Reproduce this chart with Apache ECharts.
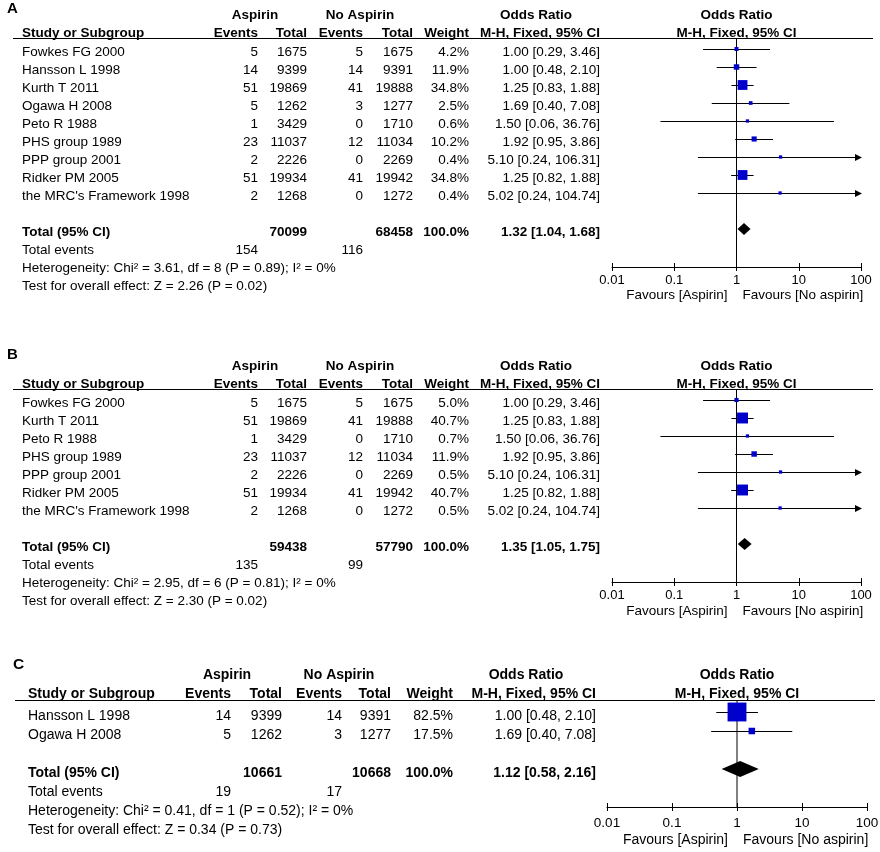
<!DOCTYPE html>
<html><head><meta charset="utf-8">
<script src="https://cdn.jsdelivr.net/npm/echarts@6/dist/echarts.min.js"></script>
<style>html,body{margin:0;padding:0;background:#fff}#c{width:880px;height:852px}</style>
</head><body><div id="c"></div>
<script>
// ---------- DATA ----------
const tickLabels = ['0.01', '0.1', '1', '10', '100'];
const favourLabels = ['Favours [Aspirin]', 'Favours [No aspirin]'];

// Panel A
const studiesA = ['Fowkes FG 2000', 'Hansson L 1998', 'Kurth T 2011', 'Ogawa H 2008', 'Peto R 1988', 'PHS group 1989', 'PPP group 2001', 'Ridker PM 2005', "the MRC's Framework 1998"];
const aEventsA = [5, 14, 51, 5, 1, 23, 2, 51, 2];
const aTotalA = [1675, 9399, 19869, 1262, 3429, 11037, 2226, 19934, 1268];
const nEventsA = [5, 14, 41, 3, 0, 12, 0, 41, 0];
const nTotalA = [1675, 9391, 19888, 1277, 1710, 11034, 2269, 19942, 1272];
const weightA = [4.2, 11.9, 34.8, 2.5, 0.6, 10.2, 0.4, 34.8, 0.4];
const orA = [1.00, 1.00, 1.25, 1.69, 1.50, 1.92, 5.10, 1.25, 5.02];
const loA = [0.29, 0.48, 0.83, 0.40, 0.06, 0.95, 0.24, 0.82, 0.24];
const hiA = [3.46, 2.10, 1.88, 7.08, 36.76, 3.86, 106.31, 1.88, 104.74];
const totalA = [70099, 68458, 100.0];
const totalOrA = [1.32, 1.04, 1.68];
const totalEventsA = [154, 116];
const hetA = 'Heterogeneity: Chi² = 3.61, df = 8 (P = 0.89); I² = 0%';
const testA = 'Test for overall effect: Z = 2.26 (P = 0.02)';

// Panel B
const studiesB = ['Fowkes FG 2000', 'Kurth T 2011', 'Peto R 1988', 'PHS group 1989', 'PPP group 2001', 'Ridker PM 2005', "the MRC's Framework 1998"];
const aEventsB = [5, 51, 1, 23, 2, 51, 2];
const aTotalB = [1675, 19869, 3429, 11037, 2226, 19934, 1268];
const nEventsB = [5, 41, 0, 12, 0, 41, 0];
const nTotalB = [1675, 19888, 1710, 11034, 2269, 19942, 1272];
const weightB = [5.0, 40.7, 0.7, 11.9, 0.5, 40.7, 0.5];
const orB = [1.00, 1.25, 1.50, 1.92, 5.10, 1.25, 5.02];
const loB = [0.29, 0.83, 0.06, 0.95, 0.24, 0.82, 0.24];
const hiB = [3.46, 1.88, 36.76, 3.86, 106.31, 1.88, 104.74];
const totalB = [59438, 57790, 100.0];
const totalOrB = [1.35, 1.05, 1.75];
const totalEventsB = [135, 99];
const hetB = 'Heterogeneity: Chi² = 2.95, df = 6 (P = 0.81); I² = 0%';
const testB = 'Test for overall effect: Z = 2.30 (P = 0.02)';

// Panel C
const studiesC = ['Hansson L 1998', 'Ogawa H 2008'];
const aEventsC = [14, 5];
const aTotalC = [9399, 1262];
const nEventsC = [14, 3];
const nTotalC = [9391, 1277];
const weightC = [82.5, 17.5];
const orC = [1.00, 1.69];
const loC = [0.48, 0.40];
const hiC = [2.10, 7.08];
const totalC = [10661, 10668, 100.0];
const totalOrC = [1.12, 0.58, 2.16];
const totalEventsC = [19, 17];
const hetC = 'Heterogeneity: Chi² = 0.41, df = 1 (P = 0.52); I² = 0%';
const testC = 'Test for overall effect: Z = 0.34 (P = 0.73)';

// ---------- LAYOUT ----------
const layouts = [
  { label: 'A', labelY: 9, h1: 15, h2: 33, rule: 38, row0: 49, step: 18, axisY: 267, plotL: 612, plotR: 861,
    fs: 13.5, nameX: 22, cols: [258, 307, 363, 413, 469, 600], hdr: [255, 360, 536], diamondH: 12,
    ruleX: [13, 873], tickMargin: 7, favGap: 28, textDy: 3 },
  { label: 'B', labelY: 355, h1: 366, h2: 384, rule: 389, row0: 400, step: 18, axisY: 582, plotL: 612, plotR: 861,
    fs: 13.5, nameX: 22, cols: [258, 307, 363, 413, 469, 600], hdr: [255, 360, 536], diamondH: 12,
    ruleX: [13, 873], tickMargin: 7, favGap: 29, textDy: 3 },
  { label: 'C', labelY: 665, h1: 675, h2: 694, rule: 700, row0: 712, step: 19, axisY: 807, plotL: 607, plotR: 867,
    fs: 14, nameX: 28, cols: [231, 282, 342, 391, 453, 596], hdr: [227, 339, 526], diamondH: 16,
    ruleX: [15, 875], tickMargin: 9, favGap: 33, textDy: 4 }
];

const panels = [
  { studies: studiesA, aEv: aEventsA, aTot: aTotalA, nEv: nEventsA, nTot: nTotalA, w: weightA, or: orA, lo: loA, hi: hiA,
    tot: totalA, tor: totalOrA, tev: totalEventsA, het: hetA, test: testA },
  { studies: studiesB, aEv: aEventsB, aTot: aTotalB, nEv: nEventsB, nTot: nTotalB, w: weightB, or: orB, lo: loB, hi: hiB,
    tot: totalB, tor: totalOrB, tev: totalEventsB, het: hetB, test: testB },
  { studies: studiesC, aEv: aEventsC, aTot: aTotalC, nEv: nEventsC, nTot: nTotalC, w: weightC, or: orC, lo: loC, hi: hiC,
    tot: totalC, tor: totalOrC, tev: totalEventsC, het: hetC, test: testC }
];

const FONT = '"Liberation Sans", Arial, Helvetica, sans-serif';
const BLUE = '#0000cc';

function studyRender(params, api) {
  const or = api.value(0), lo = api.value(1), hi = api.value(2), row = api.value(3), w = api.value(4);
  const c = api.coord([or, row]);
  const a = api.coord([Math.max(lo, 0.01), row]);
  const b = api.coord([Math.min(hi, 100), row]);
  const y = Math.round(c[1]) + 0.5;
  const s = 3.2 + 0.19 * w;
  const children = [
    { type: 'line', shape: { x1: a[0], y1: y, x2: b[0], y2: y }, style: { stroke: '#000', lineWidth: 1 } }
  ];
  if (hi > 100) {
    children.push({ type: 'polygon', shape: { points: [[b[0] - 6, y - 3.5], [b[0] + 1, y], [b[0] - 6, y + 3.5]] }, style: { fill: '#000' } });
  }
  children.push({ type: 'rect', shape: { x: c[0] - s / 2, y: c[1] - s / 2, width: s, height: s }, style: { fill: BLUE } });
  return { type: 'group', children };
}
function diamondRender(h) {
  return function (params, api) {
    const row = api.value(3);
    const c = api.coord([api.value(0), row]);
    const a = api.coord([api.value(1), row]);
    const b = api.coord([api.value(2), row]);
    return { type: 'polygon', shape: { points: [[a[0], c[1]], [c[0], c[1] - h / 2], [b[0], c[1]], [c[0], c[1] + h / 2]] }, style: { fill: '#000' } };
  };
}

const grid = [], xAxis = [], yAxis = [], series = [];
panels.forEach((p, k) => {
  const L = layouts[k];
  const n = p.studies.length;
  const yMin = (L.rule - L.row0) / L.step;
  const yMax = (L.axisY - L.row0) / L.step;
  grid.push({ left: L.plotL, top: L.rule, width: L.plotR - L.plotL, height: L.axisY - L.rule,
    containLabel: false, outerBoundsMode: 'none', show: false });
  const baseX = {
    type: 'log', logBase: 10, gridIndex: k, min: 0.01, max: 100, position: 'bottom', splitNumber: 4,
    splitLine: { show: false }, minorTick: { show: false }, minorSplitLine: { show: false }
  };
  xAxis.push(Object.assign({}, baseX, {
    axisLine: { show: true, onZero: false, lineStyle: { color: '#000', width: 1 } },
    axisTick: { show: true, inside: false, length: 4, lineStyle: { color: '#000', width: 1 } },
    axisLabel: { show: true, margin: L.tickMargin, color: '#000', fontFamily: FONT, fontSize: L.fs - 0.5,
      showMinLabel: true, showMaxLabel: true,
      formatter: v => tickLabels[Math.round(Math.log10(v)) + 2] }
  }));
  xAxis.push(Object.assign({}, baseX, {
    axisLine: { show: false, onZero: false },
    axisTick: { show: true, inside: true, length: 4, lineStyle: { color: '#000', width: 1 } },
    axisLabel: { show: false }
  }));
  yAxis.push({ type: 'value', gridIndex: k, inverse: true, min: yMin, max: yMax, show: false,
    splitLine: { show: false } });

  // vertical line of no effect at OR = 1
  series.push({ type: 'line', xAxisIndex: 2 * k, yAxisIndex: k, silent: true, symbol: 'none',
    lineStyle: { color: '#000', width: 1 }, data: [[1, yMin], [1, yMax]], z: 1 });
  // studies
  series.push({ type: 'custom', xAxisIndex: 2 * k, yAxisIndex: k, clip: false, silent: true, z: 3,
    renderItem: studyRender, encode: { x: 0, y: 3 },
    data: p.studies.map((s, i) => [p.or[i], p.lo[i], p.hi[i], i, p.w[i]]) });
  // pooled diamond
  series.push({ type: 'custom', xAxisIndex: 2 * k, yAxisIndex: k, clip: false, silent: true, z: 3,
    renderItem: diamondRender(L.diamondH), encode: { x: 0, y: 3 },
    data: [[p.tor[0], p.tor[1], p.tor[2], n + 1]] });
});

const chart = echarts.init(document.getElementById('c'), null, { renderer: 'canvas' });
chart.setOption({ animation: false, backgroundColor: '#fff', grid, xAxis, yAxis, series });

// ---------- TABLE TEXT ----------
function txt(x, y, text, fs, align, bold) {
  const font = (bold ? 'bold ' : '') + fs + 'px ' + FONT;
  return { type: 'text', x: x, y: y, silent: true,
    style: { text: String(text), font: font, fill: '#000', align: align, textAlign: align,
      verticalAlign: 'middle', textVerticalAlign: 'middle' } };
}
const fmt2 = v => v.toFixed(2);
const orText = (o, l, h) => fmt2(o) + ' [' + fmt2(l) + ', ' + fmt2(h) + ']';

const graphic = [];
panels.forEach((p, k) => {
  const L = layouts[k];
  const fs = L.fs;
  const n = p.studies.length;
  const x1 = chart.convertToPixel({ xAxisIndex: 2 * k }, 1);
  const rowY = r => chart.convertToPixel({ yAxisIndex: k }, r) + L.textDy;
  const c = L.cols;

  graphic.push(txt(L.nameX - 15, L.labelY, L.label, fs + 1.5, 'left', true));
  // header row 1
  graphic.push(txt(L.hdr[0], L.h1, 'Aspirin', fs, 'center', true));
  graphic.push(txt(L.hdr[1], L.h1, 'No Aspirin', fs, 'center', true));
  graphic.push(txt(L.hdr[2], L.h1, 'Odds Ratio', fs, 'center', true));
  graphic.push(txt(x1, L.h1, 'Odds Ratio', fs, 'center', true));
  // header row 2
  graphic.push(txt(L.nameX, L.h2, 'Study or Subgroup', fs, 'left', true));
  graphic.push(txt(c[0], L.h2, 'Events', fs, 'right', true));
  graphic.push(txt(c[1], L.h2, 'Total', fs, 'right', true));
  graphic.push(txt(c[2], L.h2, 'Events', fs, 'right', true));
  graphic.push(txt(c[3], L.h2, 'Total', fs, 'right', true));
  graphic.push(txt(c[4], L.h2, 'Weight', fs, 'right', true));
  graphic.push(txt(c[5], L.h2, 'M-H, Fixed, 95% CI', fs, 'right', true));
  graphic.push(txt(x1, L.h2, 'M-H, Fixed, 95% CI', fs, 'center', true));
  // rule
  graphic.push({ type: 'line', silent: true, shape: { x1: L.ruleX[0], y1: L.rule + 0.5, x2: L.ruleX[1], y2: L.rule + 0.5 },
    style: { stroke: '#000', lineWidth: 1.2 } });

  // study rows
  p.studies.forEach((s, i) => {
    const y = rowY(i);
    graphic.push(txt(L.nameX, y, s, fs, 'left'));
    graphic.push(txt(c[0], y, p.aEv[i], fs, 'right'));
    graphic.push(txt(c[1], y, p.aTot[i], fs, 'right'));
    graphic.push(txt(c[2], y, p.nEv[i], fs, 'right'));
    graphic.push(txt(c[3], y, p.nTot[i], fs, 'right'));
    graphic.push(txt(c[4], y, p.w[i].toFixed(1) + '%', fs, 'right'));
    graphic.push(txt(c[5], y, orText(p.or[i], p.lo[i], p.hi[i]), fs, 'right'));
  });
  // total row
  const yt = rowY(n + 1);
  graphic.push(txt(L.nameX, yt, 'Total (95% CI)', fs, 'left', true));
  graphic.push(txt(c[1], yt, p.tot[0], fs, 'right', true));
  graphic.push(txt(c[3], yt, p.tot[1], fs, 'right', true));
  graphic.push(txt(c[4], yt, p.tot[2].toFixed(1) + '%', fs, 'right', true));
  graphic.push(txt(c[5], yt, orText(p.tor[0], p.tor[1], p.tor[2]), fs, 'right', true));
  // total events
  const ye = rowY(n + 2);
  graphic.push(txt(L.nameX, ye, 'Total events', fs, 'left'));
  graphic.push(txt(c[0], ye, p.tev[0], fs, 'right'));
  graphic.push(txt(c[2], ye, p.tev[1], fs, 'right'));
  graphic.push(txt(L.nameX, rowY(n + 3), p.het, fs, 'left'));
  graphic.push(txt(L.nameX, rowY(n + 4), p.test, fs, 'left'));

  // favours labels
  graphic.push(txt(x1 - 9, L.axisY + L.favGap, favourLabels[0], fs, 'right'));
  graphic.push(txt(x1 + 6, L.axisY + L.favGap, favourLabels[1], fs, 'left'));
});
chart.setOption({ graphic: graphic });
</script>
</body></html>
